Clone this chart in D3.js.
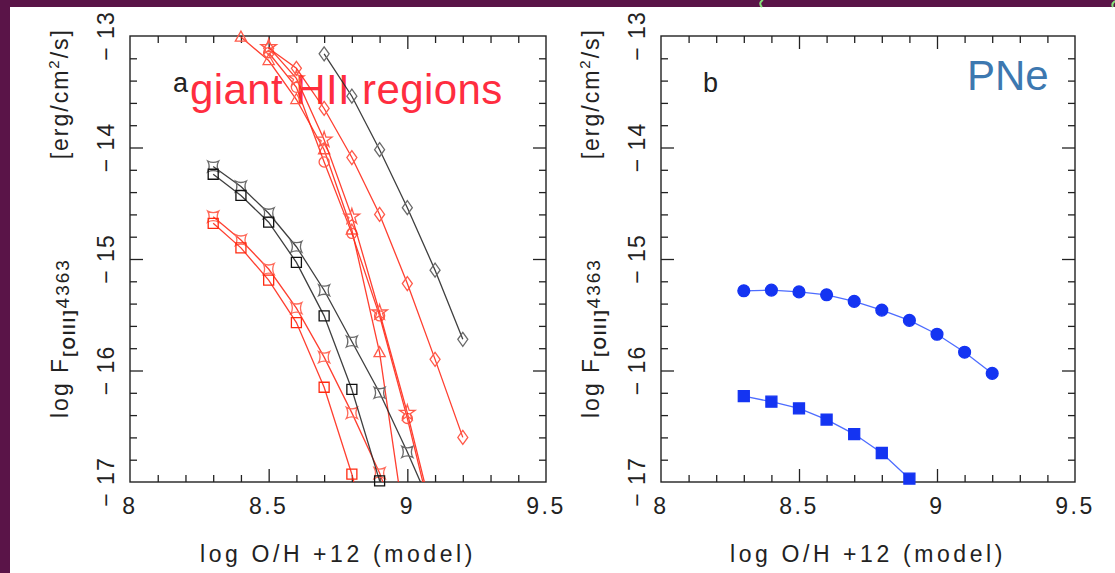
<!DOCTYPE html>
<html>
<head>
<meta charset="utf-8">
<script src="https://cdn.jsdelivr.net/npm/d3@7"></script>
<style>
html, body { margin: 0; padding: 0; background: #fff; }
svg { display: block; }
text { font-family: "Liberation Sans", Arial, sans-serif; fill: #222; }
</style>
</head>
<body>
<svg id="fig" width="1115" height="573"></svg>
<script>
// ---- data ----
// panel a : giant HII regions
const blackDiamondX = [8.7, 8.8, 8.9, 9.0, 9.1, 9.2];
const blackDiamondY = [-13.16, -13.54, -14.02, -14.54, -15.10, -15.72];

const redDiamondX = [8.5, 8.6, 8.7, 8.8, 8.9, 9.0, 9.1, 9.2];
const redDiamondY = [-13.11, -13.29, -13.65, -14.09, -14.60, -15.22, -15.90, -16.60];

const redStarX = [8.5, 8.6, 8.7, 8.8, 8.9, 9.0, 9.1];
const redStarY = [-13.10, -13.38, -13.93, -14.62, -15.48, -16.38, -17.39];

const redCircleX = [8.5, 8.6, 8.7, 8.8, 8.9, 9.0, 9.1];
const redCircleY = [-13.15, -13.46, -14.13, -14.77, -15.51, -16.43, -17.45];

const redTriangleX = [8.4, 8.5, 8.6, 8.7, 8.8, 8.9, 9.0];
const redTriangleY = [-13.01, -13.22, -13.57, -14.02, -14.74, -15.84, -17.55];

const blackSquareX = [8.3, 8.4, 8.5, 8.6, 8.7, 8.8, 8.9];
const blackSquareY = [-14.24, -14.43, -14.67, -15.03, -15.51, -16.17, -16.99];

const blackConcaveX = [8.3, 8.4, 8.5, 8.6, 8.7, 8.8, 8.9, 9.0, 9.1];
const blackConcaveY = [-14.17, -14.35, -14.59, -14.89, -15.28, -15.74, -16.20, -16.73, -17.30];

const redSquareX = [8.3, 8.4, 8.5, 8.6, 8.7, 8.8, 8.9];
const redSquareY = [-14.68, -14.90, -15.19, -15.57, -16.15, -16.93, -17.90];

const redConcaveX = [8.3, 8.4, 8.5, 8.6, 8.7, 8.8, 8.9, 9.0];
const redConcaveY = [-14.62, -14.83, -15.09, -15.44, -15.88, -16.38, -16.92, -17.60];

// panel b : PNe
const pneCircleX = [8.3, 8.4, 8.5, 8.6, 8.7, 8.8, 8.9, 9.0, 9.1, 9.2];
const pneCircleY = [-15.285, -15.279, -15.295, -15.321, -15.380, -15.459, -15.551, -15.675, -15.836, -16.026];

const pneSquareX = [8.3, 8.4, 8.5, 8.6, 8.7, 8.8, 8.9];
const pneSquareY = [-16.23, -16.28, -16.34, -16.44, -16.57, -16.74, -16.97];

const xTickLabels = [8, 8.5, 9, 9.5];
const yTickLabels = [-17, -16, -15, -14, -13];

// ---- styles ----
const RED = "#ff2a1a", BLK = "#2a2a2a", BLUE = "#1434f2";

const seriesA = [
	{x: redTriangleX, y: redTriangleY, line: RED, mark: "triangle", ms: "#ff5a4a"},
	{x: redCircleX, y: redCircleY, line: RED, mark: "circle", ms: "#ff5a4a"},
	{x: redStarX, y: redStarY, line: RED, mark: "star", ms: "#ff5a4a"},
	{x: redDiamondX, y: redDiamondY, line: RED, mark: "diamond", ms: "#ff5a4a"},
	{x: redConcaveX, y: redConcaveY, line: RED, mark: "concave", ms: "#ff6a5a"},
	{x: redSquareX, y: redSquareY, line: RED, mark: "square", ms: "#ff2a10"},
	{x: blackConcaveX, y: blackConcaveY, line: BLK, mark: "concave", ms: "#6a6a6a"},
	{x: blackSquareX, y: blackSquareY, line: BLK, mark: "square", ms: "#111"},
	{x: blackDiamondX, y: blackDiamondY, line: BLK, mark: "diamond", ms: "#6a6a6a"}
];
const seriesB = [
	{x: pneCircleX, y: pneCircleY, line: "#3a5cff", mark: "dot", ms: BLUE},
	{x: pneSquareX, y: pneSquareY, line: "#3a5cff", mark: "box", ms: BLUE}
];

const markPath = {
	square: "M-5,-5H5V5H-5Z",
	concave: "M-5.5,-5.5Q0,-2.6 5.5,-5.5Q2.6,0 5.5,5.5Q0,2.6 -5.5,5.5Q-2.6,0 -5.5,-5.5Z",
	diamond: "M0,-7L5,0L0,7L-5,0Z",
	triangle: "M0,-6L5.6,4L-5.6,4Z",
	circle: d3.symbol(d3.symbolCircle, 80)(),
	star: d3.symbol(d3.symbolStar, 75)(),
	dot: d3.symbol(d3.symbolCircle, 110)(),
	box: "M-5.5,-5.5H5.5V5.5H-5.5Z"
};
const filled = {dot: true, box: true};

const W = 1115, H = 573;
const svg = d3.select("#fig");

// slide background
svg.append("rect").attr("width", W).attr("height", H).attr("fill", "#5a1448");
svg.append("rect").attr("x", 10).attr("y", 7).attr("width", W - 10).attr("height", H - 7).attr("fill", "#fff");
svg.append("path").attr("d", "M763,0 Q758,3 762,7").attr("fill", "none").attr("stroke", "#86e07a").attr("stroke-width", 2);
svg.append("path").attr("d", "M1115,1 Q1111,4 1113,7").attr("fill", "none").attr("stroke", "#86e07a").attr("stroke-width", 2);

const yRange = [482, 36];

function drawPanel(left, right, id, series, drawText) {
	const x = d3.scaleLinear().domain([8, 9.5]).range([left, right]);
	const y = d3.scaleLinear().domain([-17, -13]).range(yRange);
	const g = svg.append("g");

	drawText(g);

	// inward ticks on all four sides
	const xMinor = d3.range(1, 15).filter(i => i % 5 !== 0).map(i => 8 + i / 10);
	const xMajor = [8.5, 9];
	const yMinor = d3.range(1, 20).filter(i => i % 5 !== 0).map(i => -17 + i / 5);
	const yMajor = [-16, -15, -14];

	const tickG = g.append("g").attr("class", "ticks");
	const put = (axis, tr) => {
		const a = tickG.append("g").attr("transform", tr).call(axis);
		a.select(".domain").remove();
		a.selectAll("line").attr("stroke", "#222").attr("stroke-width", 1.3);
		a.selectAll("text").remove();
	};
	[[xMinor, 7], [xMajor, 13]].forEach(([vals, len]) => {
		put(d3.axisBottom(x).tickValues(vals).tickSize(-len), `translate(0,${y(-17)})`);
		put(d3.axisTop(x).tickValues(vals).tickSize(-len), `translate(0,${y(-13)})`);
	});
	[[yMinor, 7], [yMajor, 13]].forEach(([vals, len]) => {
		put(d3.axisLeft(y).tickValues(vals).tickSize(-len), `translate(${x(8)},0)`);
		put(d3.axisRight(y).tickValues(vals).tickSize(-len), `translate(${x(9.5)},0)`);
	});

	g.append("rect")
		.attr("x", x(8)).attr("y", y(-13))
		.attr("width", x(9.5) - x(8)).attr("height", y(-17) - y(-13))
		.attr("fill", "none").attr("stroke", "#222").attr("stroke-width", 1.4);

	// tick labels
	g.selectAll(".xl").data(xTickLabels).enter().append("text")
		.attr("x", d => x(d)).attr("y", 514)
		.attr("text-anchor", "middle")
		.style("font-size", "23px").style("letter-spacing", "2.5px")
		.text(d => d);
	g.selectAll(".yl").data(yTickLabels).enter().append("text")
		.attr("transform", d => `translate(${x(8) - 16},${y(d)}) rotate(-90)`)
		.attr("text-anchor", "middle")
		.style("font-size", "23px").style("letter-spacing", "1px")
		.text(d => "\u2212 " + Math.abs(d));

	// axis titles
	g.append("text")
		.attr("x", (x(8) + x(9.5)) / 2).attr("y", 562)
		.attr("text-anchor", "middle")
		.style("font-size", "23px").style("letter-spacing", "3.6px")
		.text("log O/H +12 (model)");

	const t1 = g.append("text")
		.attr("transform", `translate(${x(8) - 62},418) rotate(-90)`)
		.style("font-size", "23px").style("letter-spacing", "2px");
	t1.append("tspan").text("log F");
	t1.append("tspan").attr("dy", 7).style("font-size", "16px").style("font-weight", "bold").text("[OIII]");
	t1.append("tspan").attr("dy", -6).style("font-size", "19px").text("4363");

	const t2 = g.append("text")
		.attr("transform", `translate(${x(8) - 62},28) rotate(-90)`)
		.attr("text-anchor", "end")
		.style("font-size", "23px").style("letter-spacing", "2px");
	t2.append("tspan").text("[erg/cm");
	t2.append("tspan").attr("dy", -9).style("font-size", "15px").text("2");
	t2.append("tspan").attr("dy", 9).text("/s]");

	// data
	g.append("clipPath").attr("id", "clip-" + id)
		.append("rect")
		.attr("x", x(8)).attr("y", y(-13))
		.attr("width", x(9.5) - x(8)).attr("height", y(-17) - y(-13));

	const line = d3.line().x(d => x(d[0])).y(d => y(d[1]));
	const dataG = g.append("g");

	series.forEach(s => {
		const pts = s.x.map((v, i) => [v, s.y[i]]);
		dataG.append("path")
			.datum(pts)
			.attr("clip-path", `url(#clip-${id})`)
			.attr("d", line)
			.attr("fill", "none")
			.attr("stroke", s.line)
			.attr("stroke-width", 1.3)
			.attr("stroke-opacity", 0.9);
		dataG.selectAll(null)
			.data(pts.filter(p => p[1] >= -17.05))
			.enter().append("path")
			.attr("transform", p => `translate(${x(p[0])},${y(p[1])})`)
			.attr("d", markPath[s.mark])
			.attr("fill", filled[s.mark] ? s.ms : "none")
			.attr("stroke", s.ms)
			.attr("stroke-width", 1.3);
	});
}

drawPanel(130, 546, "a", seriesA, g => {
	g.append("text").attr("x", 173).attr("y", 92).style("font-size", "27px").text("a");
	g.append("text").attr("x", 190).attr("y", 104)
		.style("font-size", "42px").style("letter-spacing", "0.4px").style("fill", "#ff2d3f")
		.text("giant HII regions");
});

drawPanel(661, 1075, "b", seriesB, g => {
	g.append("text").attr("x", 703).attr("y", 92).style("font-size", "27px").text("b");
	g.append("text").attr("x", 967).attr("y", 90)
		.style("font-size", "42px").style("fill", "#3d78b0")
		.text("PNe");
});
</script>
</body>
</html>
